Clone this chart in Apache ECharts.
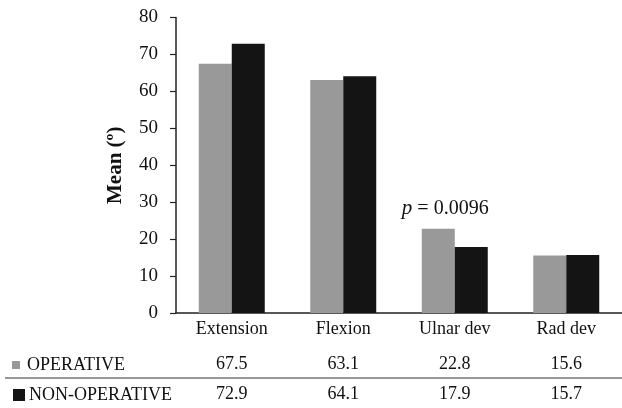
<!DOCTYPE html>
<html>
<head>
<meta charset="utf-8">
<script src="https://cdn.jsdelivr.net/npm/echarts@6/dist/echarts.min.js"></script>
<style>
  html, body { margin: 0; padding: 0; background: #fff; }
  #chart { width: 622px; height: 408px; }
</style>
</head>
<body>
<div id="chart"></div>
<script>
  // data
  var categories = ['Extension', 'Flexion', 'Ulnar dev', 'Rad dev'];
  var operative = [67.5, 63.1, 22.8, 15.6];
  var nonOperative = [72.9, 64.1, 17.9, 15.7];
  var yTicks = [0, 10, 20, 30, 40, 50, 60, 70, 80];
  var pNote = { category: 'Ulnar dev', value: 28.3, text: '0.0096' };

  var serif = '"Liberation Serif", "DejaVu Serif", serif';
  var myChart = echarts.init(document.getElementById('chart'));

  // extra category axes used as data-table rows under the chart
  function rowAxis(values, offset) {
    return {
      type: 'category',
      position: 'bottom',
      offset: offset,
      data: categories,
      axisLine: { show: false },
      axisTick: { show: false },
      axisLabel: {
        margin: 7,
        fontFamily: serif,
        fontSize: 18,
        color: '#111',
        formatter: function (v, i) { return values[i].toFixed(1); }
      }
    };
  }

  myChart.setOption({
    backgroundColor: '#fff',
    animation: false,
    grid: { left: 176, top: 17.5, width: 453, bottom: 95 },
    legend: [
      {
        data: ['OPERATIVE'], left: 12, top: 356, padding: 0, icon: 'rect',
        itemWidth: 8, itemHeight: 8, itemGap: 0,
        textStyle: { fontFamily: serif, fontSize: 18, color: '#111', padding: [0, 0, 0, 2] }
      },
      {
        data: ['NON-OPERATIVE'], left: 13, top: 386, padding: 0, icon: 'rect',
        itemWidth: 12, itemHeight: 12, itemGap: 0,
        textStyle: { fontFamily: serif, fontSize: 18, color: '#111', padding: [0, 0, 0, -1] }
      }
    ],
    xAxis: [
      {
        type: 'category',
        data: categories,
        axisLine: { lineStyle: { color: '#222', width: 1.5 } },
        axisTick: { show: false },
        axisLabel: { margin: 7, fontFamily: serif, fontSize: 18, color: '#111' }
      },
      rowAxis(operative, 35),
      rowAxis(nonOperative, 65)
    ],
    yAxis: {
      type: 'value',
      min: yTicks[0],
      max: yTicks[yTicks.length - 1],
      interval: 10,
      name: 'Mean (º)',
      nameLocation: 'middle',
      nameRotate: 90,
      nameGap: 50,
      nameTextStyle: { fontFamily: serif, fontSize: 21, fontWeight: 'bold', color: '#111' },
      splitLine: { show: false },
      axisLine: { show: true, lineStyle: { color: '#222', width: 1.5 } },
      axisTick: { show: true, length: 6, lineStyle: { color: '#222', width: 1.2 } },
      axisLabel: { margin: 18, fontFamily: serif, fontSize: 19, color: '#111' }
    },
    graphic: [
      {
        // rule between the two table rows
        type: 'line',
        shape: { x1: 5, y1: 378, x2: 622, y2: 378 },
        style: { stroke: '#333', lineWidth: 1.2 }
      }
    ],
    series: [
      {
        name: 'OPERATIVE',
        type: 'bar',
        data: operative,
        barWidth: 33,
        barGap: '0%',
        itemStyle: { color: '#999999' },
        markPoint: {
          symbol: 'circle',
          symbolSize: 1,
          itemStyle: { color: 'rgba(0,0,0,0)' },
          data: [{
            coord: [pNote.category, pNote.value],
            label: {
              show: true,
              position: 'inside',
              offset: [7, 0],
              formatter: '{i|p}{n| = ' + pNote.text + '}',
              rich: {
                i: { fontFamily: serif, fontSize: 21, fontStyle: 'italic', color: '#111' },
                n: { fontFamily: serif, fontSize: 20, color: '#111' }
              }
            }
          }]
        }
      },
      {
        name: 'NON-OPERATIVE',
        type: 'bar',
        data: nonOperative,
        barWidth: 33,
        itemStyle: { color: '#141414' }
      }
    ]
  });
</script>
</body>
</html>
